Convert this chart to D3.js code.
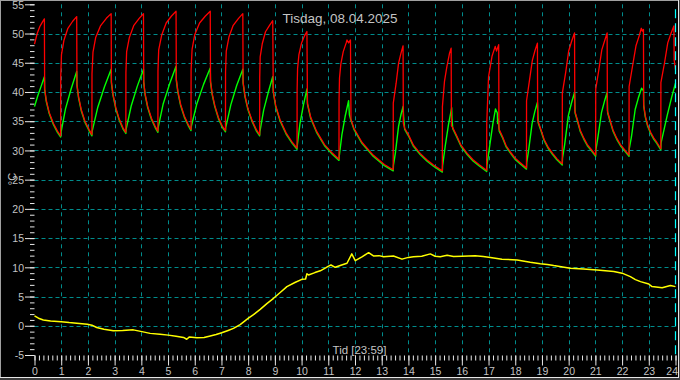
<!DOCTYPE html>
<html>
<head>
<meta charset="utf-8">
<script src="https://cdn.jsdelivr.net/npm/d3@7"></script>
<style>
  html, body { margin: 0; padding: 0; background: #000; }
  svg { display: block; }
  text { font-family: "Liberation Sans", Arial, sans-serif; }
</style>
</head>
<body>
<svg id="chart" width="680" height="380"></svg>
<script>
// ---------- data ----------
const titleText = "Tisdag, 08.04.2025";
const xTitle = "Tid [23:59]";
const yTitle = "°C";
const nowHour = 23 + 59 / 60;

const xTickValues = d3.range(0, 25);
const xTickLabels = xTickValues.map(String);
const yTickValues = [-5, 0, 5, 10, 15, 20, 25, 30, 35, 40, 45, 50, 55];
const yTickLabels = yTickValues.map(String);
const yGridValues = [0, 5, 10, 15, 20, 25, 30, 35, 40, 45, 50];

// supply temperature (red) [hour, °C]
const redSeries = [
  [0,48.2],[0.1,50.0],[0.2,51.2],[0.3,52.0],[0.37,52.5],[0.38,40.6],[0.44,38.6],[0.55,36.5],[0.71,34.6],[0.86,33.3],[0.98,32.5],
  [0.983,42.7],[1.01,46.4],[1.10,48.8],[1.25,50.9],[1.43,52.1],[1.58,52.9],[1.59,41.3],[1.65,39.2],[1.75,37.0],[1.89,35.0],[2.04,33.6],[2.15,32.7],
  [2.153,43.1],[2.19,46.8],[2.29,49.3],[2.47,51.3],[2.69,52.6],[2.87,53.4],[2.88,41.7],[2.94,39.6],[3.04,37.4],[3.17,35.4],[3.31,33.9],[3.42,33.1],
  [3.423,43.3],[3.45,46.9],[3.55,49.3],[3.72,51.4],[3.92,52.6],[4.08,53.4],[4.09,41.8],[4.14,39.7],[4.24,37.5],[4.38,35.5],[4.51,34.2],[4.62,33.3],
  [4.623,43.6],[4.65,47.2],[4.76,49.7],[4.93,51.8],[5.13,53.0],[5.30,53.8],[5.31,42.2],[5.37,40.1],[5.47,37.9],[5.61,35.9],[5.75,34.5],[5.86,33.6],
  [5.863,43.7],[5.90,47.3],[6.00,49.8],[6.18,51.8],[6.40,53.0],[6.58,53.8],[6.59,41.9],[6.65,39.8],[6.75,37.7],[6.89,35.6],[7.04,34.1],[7.15,33.4],
  [7.153,43.4],[7.18,47.0],[7.28,49.4],[7.44,51.4],[7.64,52.6],[7.80,53.4],[7.81,41.7],[7.88,39.4],[7.99,37.2],[8.15,35.1],[8.30,33.6],[8.43,32.7],
  [8.433,42.5],[8.45,46.0],[8.53,48.3],[8.65,50.3],[8.80,51.4],[8.92,52.2],[8.94,40.2],[9.03,37.7],[9.19,35.3],[9.42,33.0],[9.65,31.4],[9.83,30.4],
  [9.833,40.4],[9.85,44.0],[9.90,46.4],[10.00,48.4],[10.11,49.6],[10.20,50.35],[10.22,38.1],[10.34,35.7],[10.56,33.3],[10.86,31.0],[11.16,29.5],[11.40,28.5],
  [11.403,38.7],[11.42,42.4],[11.47,44.8],[11.56,46.9],[11.67,48.4],[11.70,48.9],[11.76,48.4],[11.83,48.9],[11.85,35.3],[11.96,33.8],[12.26,31.4],[12.68,29.2],[13.10,27.6],[13.43,26.7],
  [13.433,38.1],[13.54,41.5],[13.63,44.9],[13.72,46.6],[13.80,47.9],[13.81,34.6],[13.86,33.8],[14.0,32.7],[14.19,30.9],[14.44,29.5],[14.69,28.4],[14.94,27.5],[15.27,26.5],
  [15.273,37.5],[15.35,41.8],[15.44,44.35],[15.54,46.65],[15.60,47.5],[15.61,34.2],[15.66,33.9],[15.80,32.6],[15.97,30.9],[16.20,29.5],[16.42,28.4],[16.64,27.6],[16.93,26.6],
  [16.933,34.7],[17.0,42.6],[17.13,46.1],[17.25,47.8],[17.30,47.0],[17.38,48.1],[17.39,33.8],[17.41,33.5],[17.53,32.3],[17.66,30.8],[17.84,29.6],[18.01,28.6],[18.19,27.9],[18.42,27.0],
  [18.423,38.5],[18.53,41.9],[18.64,45.4],[18.74,47.1],[18.83,48.35],[18.84,35.2],[18.86,34.9],[18.96,33.6],[19.08,31.9],[19.24,30.5],[19.40,29.5],[19.56,28.6],[19.76,27.7],
  [19.763,39.8],[19.89,43.4],[20.00,47.0],[20.12,48.8],[20.22,50.1],[20.23,36.8],[20.24,36.6],[20.33,35.2],[20.43,33.5],[20.57,32.1],[20.70,31.0],[20.84,30.2],[21.01,29.2],
  [21.013,40.5],[21.13,43.8],[21.24,47.2],[21.35,48.8],[21.44,50.1],[21.45,36.8],[21.46,36.6],[21.55,35.2],[21.66,33.5],[21.80,32.1],[21.94,31.0],[22.08,30.2],[22.26,29.2],
  [22.263,40.9],[22.39,44.4],[22.52,47.9],[22.64,49.6],[22.72,50.9],[22.76,50.4],[22.80,50.7],[22.81,37.8],[22.87,35.9],[22.96,34.3],[23.07,33.1],[23.19,32.1],[23.30,31.4],[23.45,30.3],
  [23.453,41.6],[23.59,45.0],[23.71,48.4],[23.83,50.0],[23.94,51.3],[23.95,45.5],[24.0,43.8]
];

// return temperature (green) [hour, °C]
const greenSeries = [
  [0,37.5],[0.12,39.3],[0.25,41.0],[0.37,42.6],[0.38,40.4],[0.44,38.4],[0.55,36.3],[0.71,34.4],[0.86,33.1],[0.98,32.3],
  [0.99,33.0],[1.16,37.1],[1.37,40.5],[1.58,43.5],[1.59,41.1],[1.65,39.0],[1.75,36.8],[1.89,34.8],[2.04,33.4],[2.15,32.5],
  [2.16,33.3],[2.37,37.4],[2.62,40.9],[2.87,43.9],[2.88,41.5],[2.94,39.4],[3.04,37.2],[3.17,35.2],[3.31,33.7],[3.42,32.9],
  [3.43,33.6],[3.62,37.6],[3.85,41.0],[4.08,43.9],[4.09,41.6],[4.14,39.5],[4.24,37.3],[4.38,35.3],[4.51,34.0],[4.62,33.1],
  [4.63,33.9],[4.82,38.0],[5.06,41.4],[5.30,44.4],[5.31,42.0],[5.37,39.9],[5.47,37.7],[5.61,35.7],[5.75,34.3],[5.86,33.4],
  [5.87,34.1],[6.08,38.0],[6.33,41.3],[6.58,44.1],[6.59,41.7],[6.65,39.6],[6.75,37.5],[6.89,35.4],[7.04,33.9],[7.15,33.2],
  [7.16,33.9],[7.35,37.8],[7.57,41.1],[7.80,43.9],[7.81,41.5],[7.88,39.2],[7.99,37.0],[8.15,34.9],[8.30,33.4],[8.43,32.5],
  [8.44,33.2],[8.58,36.9],[8.75,39.9],[8.92,42.6],[8.94,40.0],[9.03,37.5],[9.19,35.1],[9.42,32.8],[9.65,31.2],[9.83,30.2],
  [9.84,30.9],[9.94,34.6],[10.07,37.8],[10.20,40.5],[10.22,37.9],[10.34,35.5],[10.56,33.1],[10.86,30.8],[11.16,29.3],[11.40,28.3],
  [11.41,29.0],[11.51,32.7],[11.63,35.8],[11.76,38.5],[11.79,36.1],[11.85,35.1],[11.96,33.6],[12.26,31.2],[12.68,29.0],[13.10,27.4],[13.43,26.5],
  [13.44,27.5],[13.51,29.5],[13.63,34.1],[13.72,36.1],[13.80,37.5],[13.82,35.8],[13.86,33.6],[14.0,32.5],[14.19,30.7],[14.44,29.3],[14.69,28.2],[14.94,27.3],[15.27,26.3],
  [15.28,27.4],[15.38,30.8],[15.50,34.4],[15.62,37.3],[15.63,35.5],[15.66,33.7],[15.80,32.4],[15.97,30.7],[16.20,29.3],[16.42,28.2],[16.64,27.4],[16.93,26.4],
  [16.94,27.5],[17.05,31.0],[17.16,34.5],[17.26,37.1],[17.33,36.4],[17.34,34.6],[17.36,35.4],[17.40,33.3],[17.53,32.1],[17.66,30.6],[17.84,29.4],[18.01,28.4],[18.19,27.7],[18.42,26.8],
  [18.43,27.9],[18.50,30.0],[18.63,34.6],[18.73,36.6],[18.83,38.2],[18.85,36.0],[18.86,34.7],[18.96,33.4],[19.08,31.7],[19.24,30.3],[19.40,29.3],[19.56,28.4],[19.76,27.5],
  [19.77,28.7],[19.85,31.0],[19.99,36.0],[20.11,38.2],[20.22,39.9],[20.24,36.4],[20.33,35.0],[20.43,33.3],[20.57,31.9],[20.70,30.8],[20.84,30.0],[21.01,29.0],
  [21.02,30.1],[21.09,32.1],[21.23,36.5],[21.34,38.4],[21.44,39.9],[21.46,36.4],[21.55,35.0],[21.66,33.3],[21.80,31.9],[21.94,30.8],[22.08,30.0],[22.26,29.0],
  [22.27,30.3],[22.35,32.3],[22.49,37.0],[22.61,39.0],[22.73,40.65],[22.80,40.2],[22.81,37.6],[22.87,35.7],[22.96,34.1],[23.07,32.9],[23.19,31.9],[23.30,31.2],[23.45,30.1],
  [23.46,31.3],[23.69,36.0],[23.85,39.0],[24.0,41.5]
];

// outdoor temperature (yellow) [hour, °C]
const outdoorSeries = [
  [0,1.7],[0.15,1.3],[0.33,1.0],[0.6,0.8],[1.0,0.7],[1.3,0.55],[1.58,0.45],[1.98,0.25],[2.15,0.1],[2.33,-0.3],[2.6,-0.6],[2.95,-0.85],
  [3.3,-0.8],[3.7,-0.7],[4.02,-1.0],[4.33,-1.3],[4.7,-1.45],[5.01,-1.6],[5.3,-1.8],[5.58,-2.0],[5.7,-2.3],[5.8,-1.9],[6.08,-2.05],
  [6.35,-2.0],[6.58,-1.75],[6.8,-1.5],[7.01,-1.2],[7.25,-0.8],[7.45,-0.45],[7.70,0.2],[8.01,1.3],[8.2,1.9],[8.45,2.8],[8.7,3.8],
  [8.95,4.7],[9.2,5.7],[9.45,6.7],[9.75,7.4],[10.01,7.95],[10.15,8.0],[10.2,8.9],[10.26,8.7],[10.5,9.1],[10.70,9.4],[10.9,9.9],
  [11.01,10.2],[11.1,10.4],[11.26,10.0],[11.5,10.4],[11.70,10.7],[11.88,12.3],[12.01,11.15],[12.26,11.8],[12.51,12.5],[12.69,11.95],
  [12.9,12.0],[13.07,11.8],[13.44,11.95],[13.76,11.4],[14.0,11.7],[14.19,11.8],[14.5,11.9],[14.82,12.3],[15.0,11.9],[15.19,11.8],
  [15.45,12.05],[15.69,11.85],[16.0,11.9],[16.5,12.0],[16.8,11.85],[17.07,11.7],[17.50,11.4],[18.07,11.25],[18.56,10.85],[18.94,10.6],
  [19.2,10.5],[19.44,10.3],[20.06,9.85],[20.56,9.7],[21.06,9.55],[21.69,9.3],[22.0,9.0],[22.31,8.4],[22.5,7.9],[22.69,7.55],
  [23.0,7.15],[23.12,6.7],[23.5,6.5],[23.81,6.9],[24.0,6.7]
];

// ---------- chart ----------
const svg = d3.select("#chart");
const W = 680, H = 380;
const x = d3.scaleLinear().domain([0, 24]).range([34.5, 675.5]);
const y = d3.scaleLinear().domain([-5, 55]).range([355, 4.3]);

svg.append("rect").attr("width", W).attr("height", H).attr("fill", "#000");

const gridColor = "#008c8c";
svg.append("g").selectAll("line")
  .data(xTickValues.filter(d => d > 0 && d < 24))
  .join("line")
  .attr("x1", d => Math.round(x(d)) + 0.5).attr("x2", d => Math.round(x(d)) + 0.5)
  .attr("y1", y(55)).attr("y2", y(-5))
  .attr("stroke", gridColor).attr("stroke-width", 1).attr("stroke-dasharray", "4,4");
svg.append("g").selectAll("line")
  .data(yGridValues)
  .join("line")
  .attr("x1", x(0)).attr("x2", x(24))
  .attr("y1", d => Math.round(y(d)) + 0.5).attr("y2", d => Math.round(y(d)) + 0.5)
  .attr("stroke", gridColor).attr("stroke-width", 1).attr("stroke-dasharray", "4,3");

// axes
const textColor = "#c4c4c4";
const tickFont = '"Liberation Sans Narrow", "Liberation Sans", Arial, sans-serif';
const yAxisMinor = d3.axisLeft(y).tickValues(d3.range(-5, 56)).tickSize(4.5).tickFormat("");
const yAxisMajor = d3.axisLeft(y).tickValues(yTickValues).tickSize(9.5)
  .tickFormat((d, i) => yTickLabels[i]);
const xAxisMinor = d3.axisBottom(x).tickValues(d3.range(0, 145).map(i => i / 6)).tickSize(5).tickFormat("");
const xAxisMajor = d3.axisBottom(x).tickValues(xTickValues).tickSize(10)
  .tickFormat((d, i) => xTickLabels[i]);

function styleAxis(g) {
  g.select(".domain").remove();
  g.selectAll("line").attr("stroke", "#e8e8e8").attr("stroke-width", 1);
  g.selectAll("text").attr("fill", textColor).style("font-size", "10.5px")
    .style("font-family", tickFont);
}
svg.append("g").attr("transform", "translate(34.5,0)").call(yAxisMinor).call(styleAxis);
const gy = svg.append("g").attr("transform", "translate(34.5,0)").call(yAxisMajor).call(styleAxis);
gy.selectAll("text").attr("x", -10.5).attr("dy", "0.36em");
svg.append("g").attr("transform", "translate(0,355.5)").call(xAxisMinor).call(styleAxis);
const gx = svg.append("g").attr("transform", "translate(0,355.5)").call(xAxisMajor).call(styleAxis);
gx.selectAll("text").attr("y", 19).attr("dy", 0);
// last label kept inside the frame
gx.selectAll("text").filter(d => d === 24).attr("text-anchor", "end").attr("x", 2);

// series lines
const line = d3.line().x(d => x(d[0])).y(d => y(d[1]));
svg.append("path").datum(outdoorSeries).attr("d", line)
  .attr("fill", "none").attr("stroke", "#ffff00").attr("stroke-width", 1.5).attr("stroke-linejoin", "round");
svg.append("path").datum(greenSeries).attr("d", line)
  .attr("fill", "none").attr("stroke", "#00ff00").attr("stroke-width", 1.4).attr("stroke-linejoin", "round");
svg.append("path").datum(redSeries).attr("d", line)
  .attr("fill", "none").attr("stroke", "#ff0000").attr("stroke-width", 1.3).attr("stroke-linejoin", "round");

// "now" marker
svg.append("line")
  .attr("x1", Math.round(x(nowHour)) + 0.5).attr("x2", Math.round(x(nowHour)) + 0.5)
  .attr("y1", y(55) + 5).attr("y2", y(-5))
  .attr("stroke", "#00ffff").attr("stroke-width", 1.2).attr("stroke-dasharray", "9,5");

// titles
svg.append("text").attr("x", 340).attr("y", 22.5).attr("text-anchor", "middle")
  .attr("fill", textColor).style("font-size", "13.5px").text(titleText);
svg.append("text").attr("x", 359.5).attr("y", 353.5).attr("text-anchor", "middle")
  .attr("fill", textColor).style("font-size", "11.5px").text(xTitle);
svg.append("text").attr("transform", "translate(15.5,179) rotate(-90)").attr("text-anchor", "middle")
  .attr("fill", textColor).style("font-size", "11px").text(yTitle);

// window frame
svg.append("line").attr("x1", 0).attr("x2", W).attr("y1", 0.5).attr("y2", 0.5).attr("stroke", "#a0a0a0");
svg.append("line").attr("x1", 0.5).attr("x2", 0.5).attr("y1", 0).attr("y2", H).attr("stroke", "#a0a0a0");
svg.append("rect").attr("x", 678).attr("y", 0).attr("width", 2).attr("height", H).attr("fill", "#3a3a3a");
svg.append("rect").attr("x", 0).attr("y", 378).attr("width", W).attr("height", 2).attr("fill", "#3a3a3a");
svg.append("line").attr("x1", 678.5).attr("x2", 678.5).attr("y1", 0).attr("y2", 378).attr("stroke", "#e6e6e6");
svg.append("line").attr("x1", 0).attr("x2", 679).attr("y1", 377.5).attr("y2", 377.5).attr("stroke", "#e6e6e6");
</script>
</body>
</html>
